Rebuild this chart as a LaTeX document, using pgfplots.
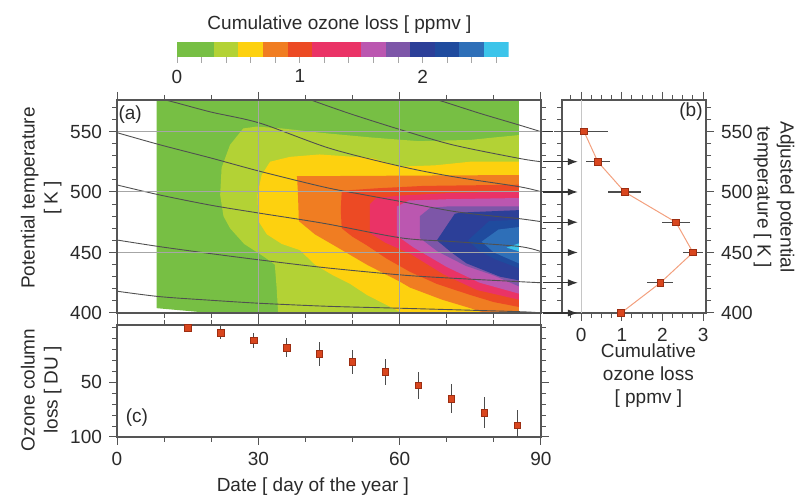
\documentclass[border=0pt]{standalone}
\usepackage{fontspec}
\setmainfont{Liberation Sans}
\usepackage{pgfplots}
\pgfplotsset{compat=1.18}
\usetikzlibrary{arrows.meta}

\definecolor{cgreen}{HTML}{77BF44}
\definecolor{cygreen}{HTML}{B3D235}
\definecolor{cyellow}{HTML}{FDD10F}
\definecolor{corange}{HTML}{F07D22}
\definecolor{cred}{HTML}{EC4A24}
\definecolor{cpink}{HTML}{EA3366}
\definecolor{cmagenta}{HTML}{BB57B0}
\definecolor{cpurple}{HTML}{7D56A8}
\definecolor{cdblue}{HTML}{2C3F98}
\definecolor{cnavy}{HTML}{1F4B9E}
\definecolor{cblue}{HTML}{2E6FB8}
\definecolor{ccyan}{HTML}{3CC4EA}
\definecolor{cmark}{HTML}{D9461E}
\definecolor{cmarkedge}{HTML}{9C2E12}
\definecolor{cline}{HTML}{F3A07E}
\definecolor{axisgray}{HTML}{555555}
\definecolor{textgray}{HTML}{2A2A2A}
\definecolor{isogray}{HTML}{505050}

\pgfplotsset{
  myaxis/.style={
    scale only axis,
    axis line style={axisgray, line width=0.6pt},
    tick align=outside,
    major tick length=4pt, minor tick length=2.5pt,
    every tick/.style={axisgray, line width=0.5pt},
    /pgf/number format/assume math mode=true,
    tick label style={textgray},
    label style={textgray, align=center},
  },
}

\begin{document}
\begin{tikzpicture}[font=\fontsize{9.5}{11.5}\selectfont]
\useasboundingbox (0pt,0pt) rectangle (401pt,248pt);

% ---------------- colour bar ----------------
\begin{axis}[myaxis, at={(88.5pt,219.65pt)}, anchor=south west,
  width=165.8pt, height=7.5pt, xmin=0, xmax=2.7, ymin=0, ymax=1,
  hide y axis, axis x line*=bottom, x axis line style={draw=none},
  xtick={0,1,2}, minor xtick={0.2,0.4,0.6,0.8,1.2,1.4,1.6,1.8,2.2,2.4,2.6},
  every tick/.style={gray!70, line width=0.5pt},
  major tick length=3pt, minor tick length=3pt,
  title={Cumulative ozone loss {[} ppmv {]}},
  title style={at={(axis description cs:0.49,1)}, anchor=south, yshift=-5.5pt, textgray}]
\addplot[fill=cgreen, draw=none] coordinates {(0,0) (0.3,0) (0.3,1) (0,1)};
\addplot[fill=cygreen, draw=none] coordinates {(0.3,0) (0.5,0) (0.5,1) (0.3,1)};
\addplot[fill=cyellow, draw=none] coordinates {(0.5,0) (0.7,0) (0.7,1) (0.5,1)};
\addplot[fill=corange, draw=none] coordinates {(0.7,0) (0.9,0) (0.9,1) (0.7,1)};
\addplot[fill=cred, draw=none] coordinates {(0.9,0) (1.1,0) (1.1,1) (0.9,1)};
\addplot[fill=cpink, draw=none] coordinates {(1.1,0) (1.5,0) (1.5,1) (1.1,1)};
\addplot[fill=cmagenta, draw=none] coordinates {(1.5,0) (1.7,0) (1.7,1) (1.5,1)};
\addplot[fill=cpurple, draw=none] coordinates {(1.7,0) (1.9,0) (1.9,1) (1.7,1)};
\addplot[fill=cdblue, draw=none] coordinates {(1.9,0) (2.1,0) (2.1,1) (1.9,1)};
\addplot[fill=cnavy, draw=none] coordinates {(2.1,0) (2.3,0) (2.3,1) (2.1,1)};
\addplot[fill=cblue, draw=none] coordinates {(2.3,0) (2.5,0) (2.5,1) (2.3,1)};
\addplot[fill=ccyan, draw=none] coordinates {(2.5,0) (2.7,0) (2.7,1) (2.5,1)};
\end{axis}

% ---------------- panel (a) ----------------
\begin{axis}[myaxis, at={(58.5pt,91.5pt)}, anchor=south west,
  width=212pt, height=106.5pt, xmin=0, xmax=90, ymin=400, ymax=576,
  xtick={0,30,60,90}, minor xtick={10,20,40,50,70,80}, xticklabels={},
  ytick={400,450,500,550},
  minor ytick={410,420,430,440,460,470,480,490,510,520,530,540,560,570},
  xmajorgrids, ymajorgrids, major grid style={gray!70, line width=0.5pt},
  axis on top,
  ylabel={Potential temperature\\{[} K {]}},
  ylabel style={at={(axis description cs:-0.179,0.54)}, anchor=center}]
% filled contours of cumulative ozone loss (ppmv), lowest level first
\addplot[fill=cgreen, draw=none] coordinates {(8.4,575) (85.3,575) (85.3,400) (21,400) (17,401) (8.4,404)};
\addplot[fill=cygreen, draw=none] coordinates {(85.3,547) (80,545) (75,543) (64,542) (54,545) (43,549) (35,552.5) (29.6,554) (26.8,552.5) (24,539) (22.2,520) (21.9,497.5) (22.6,480) (24,470) (27,457) (31,447) (33.5,440) (33.9,420) (34.2,400) (85.3,400)};
\addplot[fill=cyellow, draw=none] coordinates {(85.3,525) (75,525) (67.5,522) (60.4,521) (54,528) (43,531) (36.7,529) (32.5,525) (30.7,514) (29.8,497.5) (30,476) (31.8,465) (35,457) (38.8,452) (42,440) (45.9,431) (49.5,424) (53,415) (56,409) (58.6,404) (60.5,400) (85.3,400)};
\addplot[fill=corange, draw=none] coordinates {(85.3,514) (38.2,513) (38.4,500) (38.6,476) (42,465) (46,456) (53,440) (60,426) (62.2,421) (69,411) (75,404) (78,400) (85.3,400)};
\addplot[fill=cred, draw=none] coordinates {(85.3,506) (65,505) (55,503) (47.7,501) (47.5,485) (47.7,470) (50,463) (53,456) (57.2,445) (62.2,434) (67.9,424) (74.9,415) (80,409) (85.3,405)};
\addplot[fill=cpink, draw=none] coordinates {(85.3,500.3) (70,499) (60,497) (55,495) (53.7,490) (53.7,466) (57,458) (62.2,449) (69.3,432) (76.4,419) (85.3,411)};
\addplot[fill=cmagenta, draw=none] coordinates {(85.3,495) (70,494) (62,493) (59.4,488) (59.4,464) (63,454) (70,438) (77,425) (85.3,416)};
\addplot[fill=cpurple, draw=none] coordinates {(85.3,488) (70,488) (66.5,487) (64.3,480) (64.3,462) (68,451) (74,439) (80,431) (85.3,422)};
\addplot[fill=cdblue, draw=none] coordinates {(85.3,485) (73,483) (71.7,482) (67.9,460) (71,450) (74.2,441) (81.3,430) (85.3,427)};
\addplot[fill=cnavy, draw=none] coordinates {(85.3,477) (79,476) (74.5,460) (77,451) (80.5,444) (85.3,437)};
\addplot[fill=cblue, draw=none] coordinates {(85.3,471) (81,469) (77.4,459) (80,450) (85.3,441)};
\addplot[fill=ccyan, draw=none] coordinates {(85.3,457.5) (82.7,454) (85.3,451)};
% isentropes
\addplot[isogray, line width=0.45pt, smooth] coordinates {(0,549) (9.1,539) (20,528) (30.4,517) (44,504) (52,498) (60.4,492) (71.4,484) (80,480) (85.3,478) (90,475.5)};
\addplot[isogray, line width=0.45pt, smooth] coordinates {(0,505.8) (9.1,497.5) (20,489) (30.4,482.4) (44,474) (60.4,462) (71.4,459) (85.3,455) (90,450.7)};
\addplot[isogray, line width=0.45pt, smooth] coordinates {(0,460.3) (9.1,454.8) (20,449) (30.4,443.8) (44,437.5) (60.4,431.4) (71.4,428.7) (85.3,425.9) (90,425)};
\addplot[isogray, line width=0.45pt, smooth] coordinates {(0,418) (9.1,413.5) (20,410.5) (30.4,408) (45,405.5) (60.4,403.9) (85.3,401.1) (90,400)};
\addplot[isogray, line width=0.45pt, smooth] coordinates {(9.2,577) (12.3,574) (20,566) (30.4,556.8) (45.2,536) (60.4,521) (71.4,512.6) (85.3,504.4) (90,500.2)};
\addplot[isogray, line width=0.45pt, smooth] coordinates {(40.5,577) (43.1,573.3) (50,564) (60.4,551.2) (71.4,538.8) (85.3,527.8) (90,525)};
\addplot[isogray, line width=0.45pt, smooth] coordinates {(67,577) (69.3,574.6) (77,565) (85.3,555.4) (90,549.8)};
\node[textgray] at (rel axis cs:0.031,0.93) {(a)};
\end{axis}

% ---------------- panel (b) ----------------
\begin{axis}[myaxis, at={(281pt,91.5pt)}, anchor=south west,
  width=72pt, height=106.5pt, xmin=-0.47, xmax=3.07, ymin=400, ymax=576,
  xtick={0,1,2,3}, minor xtick={-0.25,0.25,0.5,0.75,1.25,1.5,1.75,2.25,2.5,2.75},
  ytick={400,450,500,550},
  minor ytick={410,420,430,440,460,470,480,490,510,520,530,540,560,570},
  yticklabel pos=right, clip=false,
  xlabel={Cumulative\\ozone loss\\{[} ppmv {]}},
  xlabel style={at={(axis description cs:0.6,-0.295)}, anchor=center},
  ylabel={Adjusted potential\\temperature {[} K {]}},
  ylabel style={at={(axis description cs:1.472,0.545)}, anchor=center, rotate=180}]
\addplot[gray!45, line width=0.5pt] coordinates {(0,400) (0,576)};
% arrows from the isentropes of panel (a)
\addplot[black!80, line width=0.6pt] coordinates {(-0.93,550) (-0.7,550)};
\addplot[black!80, line width=0.6pt, -{Latex[length=5pt,width=3.6pt]}] coordinates {(-0.93,525) (-0.08,525)};
\addplot[black!80, line width=0.6pt, -{Latex[length=5pt,width=3.6pt]}] coordinates {(-0.93,500) (-0.08,500)};
\addplot[black!80, line width=0.6pt, -{Latex[length=5pt,width=3.6pt]}] coordinates {(-0.93,475) (-0.08,475)};
\addplot[black!80, line width=0.6pt, -{Latex[length=5pt,width=3.6pt]}] coordinates {(-0.93,450) (-0.08,450)};
\addplot[black!80, line width=0.6pt, -{Latex[length=5pt,width=3.6pt]}] coordinates {(-0.93,425) (-0.08,425)};
\addplot[black!80, line width=0.6pt, -{Latex[length=5pt,width=3.6pt]}] coordinates {(-0.93,400) (-0.08,400)};
% profile
\addplot[cline, line width=0.5pt] coordinates {(0.07,550) (0.41,525) (1.07,500) (2.33,475) (2.75,450) (1.95,425) (0.98,400)};
\addplot[only marks, mark=square*, mark size=1.6pt,
  mark options={fill=cmark, draw=cmarkedge, line width=0.3pt},
  error bars/.cd, x dir=both, x explicit, error mark=none,
  error bar style={black!70, line width=0.6pt}]
  coordinates {(0.07,550) +- (0.6,0) (0.41,525) +- (0.3,0) (1.07,500) +- (0.4,0) (2.33,475) +- (0.35,0) (2.75,450) +- (0.25,0) (1.95,425) +- (0.32,0) (0.98,400) +- (0.1,0)};
\node[textgray] at (rel axis cs:0.896,0.944) {(b)};
\end{axis}

% ---------------- panel (c) ----------------
\begin{axis}[myaxis, at={(58.5pt,29.5pt)}, anchor=south west,
  width=212pt, height=56pt, xmin=0, xmax=90, ymin=-2, ymax=100, y dir=reverse,
  xtick={0,30,60,90}, minor xtick={10,20,40,50,70,80},
  ytick={50,100}, minor ytick={0,10,20,30,40,60,70,80,90},
  xlabel={Date {[} day of the year {]}},
  xlabel style={at={(axis description cs:0.462,-0.446)}, anchor=center},
  ylabel={Ozone column\\loss {[} DU {]}},
  ylabel style={at={(axis description cs:-0.179,0.42)}, anchor=center}]
\addplot[only marks, mark=square*, mark size=1.6pt,
  mark options={fill=cmark, draw=cmarkedge, line width=0.3pt},
  error bars/.cd, y dir=both, y explicit, error mark=none,
  error bar style={black!70, line width=0.6pt}]
  coordinates {(15,0.5) +- (0,4) (22,5) +- (0,5.8) (29,11.7) +- (0,6.8) (36,18.7) +- (0,8.7) (43,24.4) +- (0,10.6) (50,31.4) +- (0,10.9) (57,40.8) +- (0,11.7) (64,52.9) +- (0,12.4) (71,65.1) +- (0,13) (78,77.9) +- (0,14.1) (85,89.1) +- (0,13.7)};
\node[textgray] at (rel axis cs:0.047,0.17) {(c)};
\end{axis}
\end{tikzpicture}
\end{document}
